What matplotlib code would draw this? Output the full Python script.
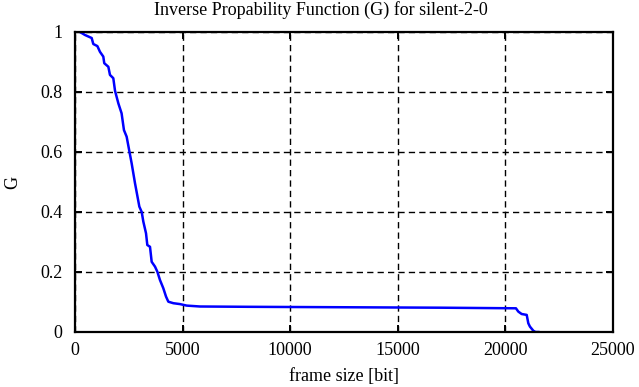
import matplotlib
matplotlib.use("Agg")
from matplotlib import pyplot as plt

# frame size [bit] vs inverse probability G
frame_size = [230, 465, 775, 850, 1040, 1160, 1315, 1360, 1550, 1625, 1780, 1860,
              2015, 2165, 2275, 2400, 2520, 2633, 2788, 2990, 3100, 3175, 3300,
              3360, 3485, 3563, 3717, 3826, 3950, 4103, 4230, 4337, 4570, 4880,
              5190, 5810, 8000, 11000, 14000, 17000, 20490, 20600, 20755, 20990,
              21065, 21140, 21300, 21400, 21530]
g_value = [1.0, 0.99, 0.98, 0.96, 0.953, 0.934, 0.918, 0.896, 0.884, 0.857, 0.846,
           0.804, 0.762, 0.729, 0.673, 0.651, 0.605, 0.562, 0.496, 0.418, 0.40,
           0.368, 0.329, 0.29, 0.284, 0.234, 0.218, 0.201, 0.173, 0.146, 0.118,
           0.101, 0.096, 0.093, 0.088, 0.085, 0.084, 0.083, 0.082, 0.081, 0.079,
           0.068, 0.06, 0.057, 0.029, 0.018, 0.004, 0.0, 0.0]

x_ticks = [0, 5000, 10000, 15000, 20000, 25000]
y_ticks = [0, 0.2, 0.4, 0.6, 0.8, 1]
y_tick_labels = ["0", "0.2", "0.4", "0.6", "0.8", "1"]

plt.rcParams['font.family'] = ['Liberation Serif', 'DejaVu Serif']

fig = plt.figure(figsize=(6.39, 3.87), dpi=100)
ax = fig.add_axes([75/639, 1-332/387, 538/639, 300/387])

ax.plot(frame_size, g_value, color='#0000ff', lw=1.8)

ax.set_xlim(0, 25000)
ax.set_ylim(0, 1)
ax.set_xticks(x_ticks)
ax.set_yticks(y_ticks)
ax.set_yticklabels(y_tick_labels)
ax.grid(True, color='black', linestyle=(0, (4.5, 3)), linewidth=1.0)
ax.tick_params(direction='in', length=5, width=1.4, top=True, right=True,
               labelsize=13, pad=7)
ax.tick_params(axis='y', pad=9)
for s in ax.spines.values():
    s.set_linewidth(1.6)

ax.set_xlabel("frame size [bit]", fontsize=13, labelpad=7)
ax.set_ylabel("G", fontsize=13, labelpad=14)
fig.text(321/639, 1-10/387, "Inverse Propability Function (G) for silent-2-0",
         ha='center', va='center', fontsize=13)

fig.savefig("out.png", dpi=100)
